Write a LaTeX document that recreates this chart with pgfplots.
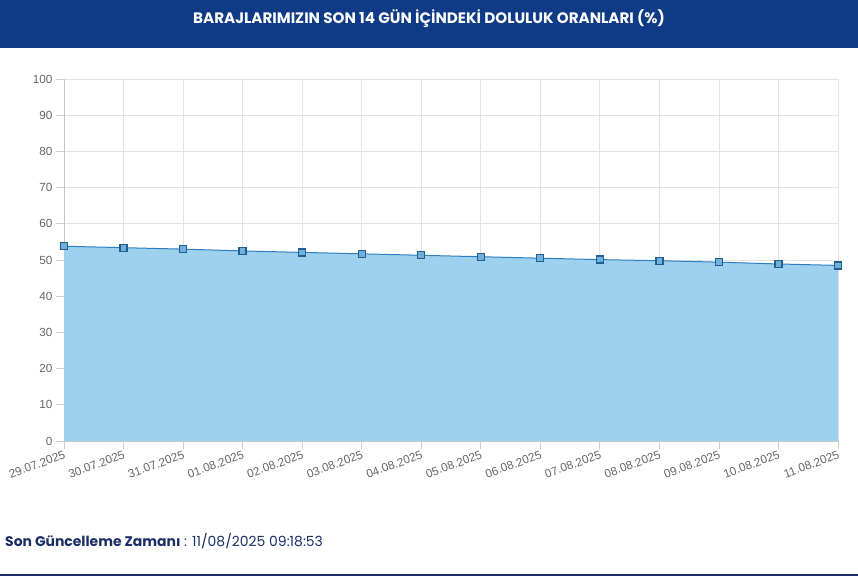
\documentclass[border=0pt]{standalone}
\usepackage{fontspec}
\setmainfont{Liberation Sans}
\newfontfamily\pop{Poppins}
\usepackage{pgfplots}
\pgfplotsset{compat=1.18}
\usepackage{pgfplotstable}

\definecolor{band}{HTML}{0F3A85}
\definecolor{navy}{HTML}{1B2F66}
\definecolor{fillblue}{HTML}{9DD1EE}
\definecolor{lineblue}{HTML}{2A7FC0}
\definecolor{gridgray}{HTML}{E3E3E3}
\definecolor{ticktext}{HTML}{666666}

% doluluk oranlari (%), 29.07.2025 - 11.08.2025
\pgfplotstableread{
x  y
0  53.8
1  53.4
2  53.0
3  52.5
4  52.1
5  51.7
6  51.3
7  50.9
8  50.5
9  50.1
10 49.8
11 49.4
12 48.9
13 48.5
}\doluluk

\begin{document}
\begin{tikzpicture}[x=1bp,y=1bp]
\path[use as bounding box] (0,0) rectangle (858,576);
% baslik bandi
\fill[band] (0,528) rectangle (858,576);
\node[text=white,font=\pop\bfseries\fontsize{15.2}{18}\selectfont] at (429,557) {BARAJLARIMIZIN SON 14 GÜN İÇİNDEKİ DOLULUK ORANLARI (\%)};

\begin{axis}[
    at={(64bp,135bp)}, anchor=south west,
    scale only axis,
    width=774bp, height=362bp,
    xmin=0, xmax=13, ymin=0, ymax=100,
    xtick={0,...,13},
    xticklabels={29.07.2025,30.07.2025,31.07.2025,01.08.2025,02.08.2025,03.08.2025,04.08.2025,05.08.2025,06.08.2025,07.08.2025,08.08.2025,09.08.2025,10.08.2025,11.08.2025},
    ytick={0,10,...,100},
    grid=major,
    major grid style={gridgray, line width=0.8bp},
    axis x line*=bottom, axis y line*=left,
    axis line style={gridgray!70!gray, line width=0.8bp, -},
    tick align=outside,
    major tick length=8bp,
    tick style={gridgray!80!gray, line width=0.8bp},
    ticklabel style={font=\fontsize{11.8}{13}\selectfont, text=ticktext},
    xticklabel style={rotate=20, anchor=north east, inner sep=1bp},
    /pgf/number format/assume math mode=true,
    clip=false,
]
\addplot[draw=none, fill=fillblue] table[x=x,y=y] {\doluluk} \closedcycle;
\addplot[lineblue, line width=1bp, mark=square*, mark size=3.5bp,
    mark options={fill=fillblue!60!lineblue, draw=lineblue!75!black, line width=1.3bp, rounded corners=1bp}]
    table[x=x,y=y] {\doluluk};
\end{axis}

% alt bilgi
\node[anchor=base west, text=navy, inner sep=0pt, font=\pop\fontsize{14}{16}\selectfont] at (5,29)
  {\textbf{Son Güncelleme Zamanı} : 11/08/2025 09:18:53};
\fill[navy] (0,0) rectangle (858,2);
\end{tikzpicture}
\end{document}
